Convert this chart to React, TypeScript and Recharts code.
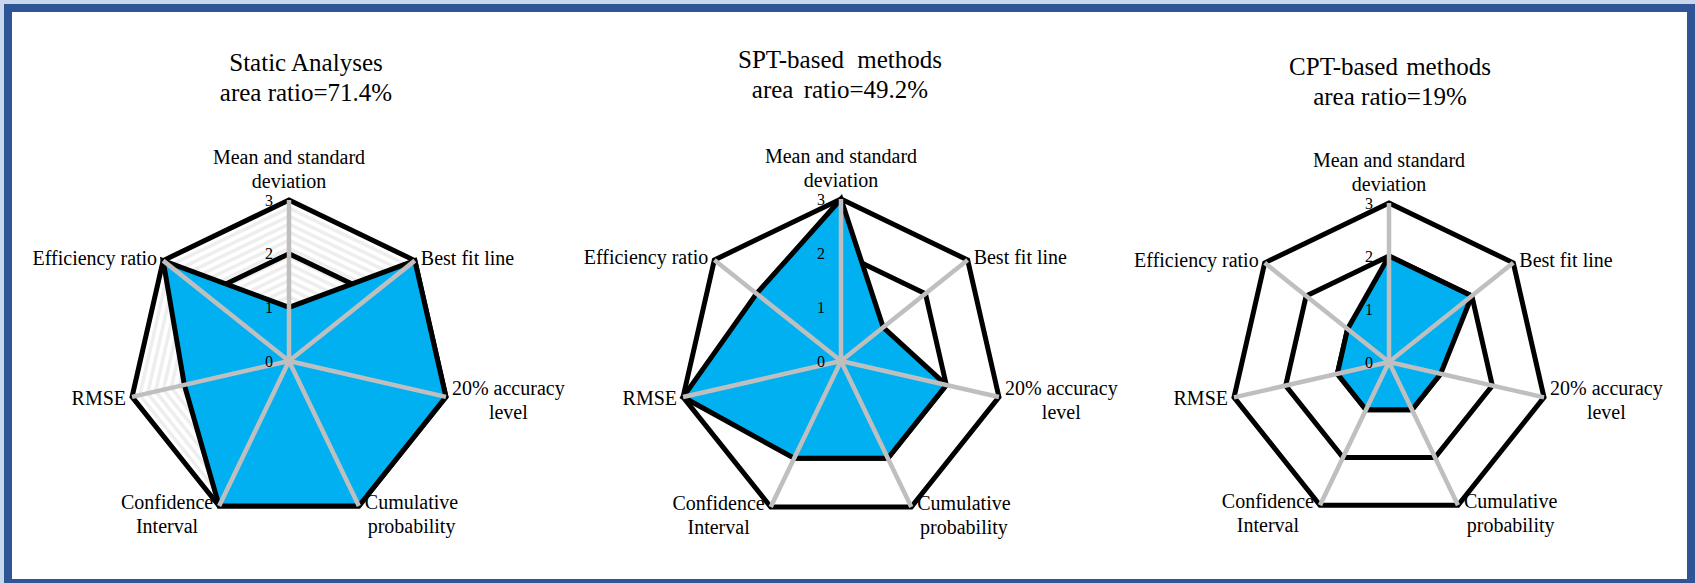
import React from "react"
import {
  RadarChart,
  Radar,
  PolarGrid,
  PolarAngleAxis,
  PolarRadiusAxis,
} from "recharts"

const metrics = [
  "Mean and standard deviation",
  "Best fit line",
  "20% accuracy level",
  "Cumulative probability",
  "Confidence Interval",
  "RMSE",
  "Efficiency ratio",
]

// how each axis label wraps
const metricLines: string[][] = [
  ["Mean and standard", "deviation"],
  ["Best fit line"],
  ["20% accuracy", "level"],
  ["Cumulative", "probability"],
  ["Confidence", "Interval"],
  ["RMSE"],
  ["Efficiency ratio"],
]

const staticValues = [1, 3, 3, 3, 3, 2, 3]
const sptValues = [3, 1, 2, 2, 2, 3, 2]
const cptValues = [2, 2, 1, 1, 1, 1, 1]

const radiusMax = 3
const radiusTicks = [0, 1, 2, 3]
// faint background bands of the first panel (in axis units)
const stripeTicks = [
  0.15, 0.3, 0.45, 0.6, 0.75, 0.9, 1.05, 1.2, 1.35, 1.5,
  1.65, 1.8, 1.95, 2.1, 2.25, 2.4, 2.55, 2.7, 2.85,
]

const titles = ["Static Analyses", "SPT-based methods", "CPT-based methods"]
const ratios = ["area ratio=71.4%", "area ratio=49.2%", "area ratio=19%"]

const FONT = '"Liberation Serif", "Times New Roman", serif'
const LABEL_SIZE = 20
const LINE_H = 24

let measureCtx: CanvasRenderingContext2D | null = null
function textWidth(s: string) {
  if (!measureCtx) measureCtx = document.createElement("canvas").getContext("2d")
  if (!measureCtx) return s.length * 9
  measureCtx.font = `${LABEL_SIZE}px "Liberation Serif"`
  return measureCtx.measureText(s).width
}

function AngleTick(props: any) {
  const { x, y, payload, ccx, ccy, rr } = props
  const dx = x - ccx
  const dy = y - ccy
  const len = Math.hypot(dx, dy) || 1
  const ux = dx / len
  const uy = dy / len
  const vx = ccx + ux * rr
  const vy = ccy + uy * rr
  const idx = metrics.indexOf(payload.value)
  const lines = idx >= 0 ? metricLines[idx] : [String(payload.value)]
  const n = lines.length

  let anchor: "start" | "middle" | "end" = "middle"
  let tx = vx
  let firstY = vy
  if (Math.abs(ux) < 0.05) {
    tx = vx
    firstY = vy - 12 - (n - 1) * LINE_H
  } else {
    const gap = 6
    const maxW = Math.max(...lines.map(textWidth))
    if (n > 1) {
      anchor = "middle"
      tx = ux > 0 ? vx + gap + maxW / 2 : vx - gap - maxW / 2
      firstY = vy + (uy > 0.5 ? 3 : -2)
    } else {
      anchor = ux > 0 ? "start" : "end"
      tx = ux > 0 ? vx + gap : vx - gap
      firstY = vy + (uy > 0 ? 8 : 4)
    }
  }

  return (
    <text
      x={tx}
      y={firstY}
      textAnchor={anchor}
      fontFamily={FONT}
      fontSize={LABEL_SIZE}
      fill="#000"
    >
      {lines.map((l, i) => (
        <tspan key={i} x={tx} dy={i === 0 ? 0 : LINE_H}>
          {l}
        </tspan>
      ))}
    </text>
  )
}

function RadiusTick(props: any) {
  const { x, y, payload } = props
  return (
    <text
      x={x - 16}
      y={y}
      textAnchor="end"
      dominantBaseline="central"
      fontFamily={FONT}
      fontSize={16}
      fill="#000"
    >
      {payload.value}
    </text>
  )
}

const panels = [
  { left: 0, width: 575, cx: 289, cy: 361, r: 161, titleX: 306, titleTop: 48, ws: 0, ws2: 0, values: staticValues, stripes: true },
  { left: 575, width: 550, cx: 266, cy: 361, r: 162, titleX: 840, titleTop: 45, ws: 7, ws2: 4, values: sptValues, stripes: false },
  { left: 1125, width: 571, cx: 264, cy: 362, r: 159, titleX: 1390, titleTop: 52, ws: 2, ws2: 0, values: cptValues, stripes: false },
]

export default function App() {
  return (
    <div
      style={{
        position: "relative",
        width: 1696,
        height: 583,
        overflow: "hidden",
        background: "#C9D7EE",
        fontFamily: FONT,
      }}
    >
      <style>{"body{margin:0}"}</style>
      <div
        style={{
          position: "absolute",
          left: 4,
          top: 4,
          width: 1675,
          height: 567,
          border: "8px solid #2F5597",
          background: "#fff",
        }}
      />

      {panels.map((p, pi) => {
        const data = metrics.map((m, i) => ({ metric: m, value: p.values[i] }))
        return (
          <React.Fragment key={pi}>
            <div
              style={{
                position: "absolute",
                left: p.titleX - 200,
                top: p.titleTop,
                width: 400,
                textAlign: "center",
                fontSize: 25,
                lineHeight: "30px",
                color: "#000",
              }}
            >
              <div style={{ wordSpacing: p.ws }}>{titles[pi]}</div>
              <div style={{ wordSpacing: p.ws2 }}>{ratios[pi]}</div>
            </div>
            <div style={{ position: "absolute", left: p.left, top: 0 }}>
              <RadarChart
                width={p.width}
                height={583}
                data={data}
                cx={p.cx}
                cy={p.cy}
                outerRadius={p.r}
                margin={{ top: 0, right: 0, bottom: 0, left: 0 }}
              >
                {p.stripes && (
                  <PolarGrid
                    gridType="polygon"
                    radialLines={false}
                    polarRadius={stripeTicks.map((t) => (t / radiusMax) * p.r)}
                    stroke="#EEEEEE"
                    strokeWidth={3.5}
                  />
                )}
                <PolarGrid
                  gridType="polygon"
                  radialLines={false}
                  stroke="#000"
                  strokeWidth={5}
                />
                <Radar
                  dataKey="value"
                  stroke="#000"
                  strokeWidth={5}
                  fill="#00B0F0"
                  fillOpacity={1}
                  dot={false}
                  isAnimationActive={false}
                  zIndex={100}
                />
                <PolarGrid
                  gridType="polygon"
                  polarRadius={[0]}
                  stroke="#BFBFBF"
                  strokeWidth={4.5}
                  zIndex={200}
                />
                <PolarAngleAxis
                  dataKey="metric"
                  axisLine={false}
                  tickLine={false}
                  tick={(tp: any) => (
                    <AngleTick {...tp} ccx={p.cx} ccy={p.cy} rr={p.r} />
                  )}
                />
                <PolarRadiusAxis
                  angle={90}
                  domain={[0, radiusMax]}
                  ticks={radiusTicks}
                  axisLine={false}
                  tickLine={false}
                  tick={(tp: any) => <RadiusTick {...tp} />}
                />
              </RadarChart>
            </div>
          </React.Fragment>
        )
      })}
    </div>
  )
}
